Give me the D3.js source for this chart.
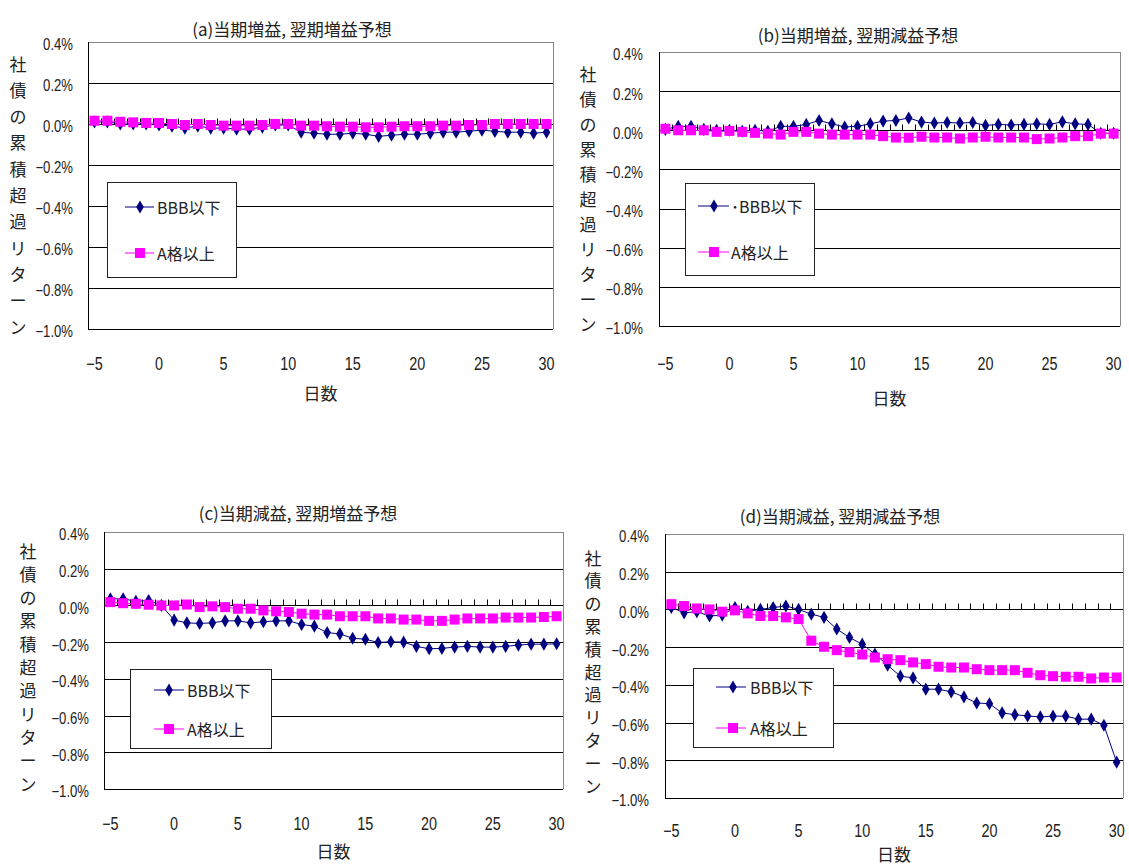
<!DOCTYPE html>
<html><head><meta charset="utf-8">
<script src="https://cdn.jsdelivr.net/npm/d3@7"></script>
<style>
body{margin:0;background:#fff}
svg{display:block}
text{font-family:"Liberation Sans","Noto Sans CJK JP",sans-serif;fill:#222}
.jp{font-family:"Noto Sans CJK JP","Liberation Sans",sans-serif}
</style>
</head><body><svg id="c" width="1129" height="866"></svg>
<script>
// ---------- data ----------
const days = [-5,-4,-3,-2,-1,0,1,2,3,4,5,6,7,8,9,10,11,12,13,14,15,16,17,18,19,20,21,22,23,24,25,26,27,28,29,30];
const xTickDays = [-5,0,5,10,15,20,25,30];
const yTicks = [0.4,0.2,0.0,-0.2,-0.4,-0.6,-0.8,-1.0];
const seriesNames = ["BBB以下","A格以上"];
const seriesNamesB = ["･BBB以下","A格以上"];
const titles = ["(a)当期増益, 翌期増益予想","(b)当期増益, 翌期減益予想","(c)当期減益, 翌期増益予想","(d)当期減益, 翌期減益予想"];
const yAxisTitle = "社債の累積超過リターン";
const xAxisTitle = "日数";

// (a) 当期増益, 翌期増益予想
const bbbA = [0.01,0.01,0.0,0.0,0.0,-0.005,-0.01,-0.02,-0.01,-0.02,-0.02,-0.025,-0.025,-0.015,-0.005,-0.005,-0.04,-0.045,-0.05,-0.05,-0.045,-0.05,-0.06,-0.055,-0.05,-0.05,-0.045,-0.04,-0.04,-0.035,-0.03,-0.036,-0.04,-0.04,-0.045,-0.04];
const aA   = [0.016,0.016,0.011,0.008,0.005,0.005,0.0,-0.005,0.0,-0.005,-0.008,-0.008,-0.008,-0.005,0.0,0.0,-0.008,-0.008,-0.011,-0.013,-0.013,-0.016,-0.016,-0.013,-0.011,-0.011,-0.011,-0.008,-0.008,-0.005,-0.005,0.0,0.0,0.0,0.0,0.0];
// (b) 当期増益, 翌期減益予想
const bbbB = [0.005,0.02,0.02,0.005,0.0,0.0,-0.005,0.0,-0.005,0.02,0.02,0.03,0.05,0.033,0.017,0.02,0.033,0.047,0.05,0.063,0.042,0.037,0.04,0.037,0.04,0.025,0.03,0.027,0.03,0.033,0.03,0.043,0.033,0.03,-0.015,-0.015];
const aB   = [0.008,0.0,0.0,0.0,-0.008,-0.003,-0.008,-0.013,-0.017,-0.022,-0.008,-0.008,-0.017,-0.022,-0.022,-0.022,-0.022,-0.03,-0.037,-0.038,-0.033,-0.037,-0.037,-0.042,-0.037,-0.033,-0.037,-0.037,-0.037,-0.045,-0.042,-0.037,-0.03,-0.03,-0.017,-0.017];
// (c) 当期減益, 翌期増益予想
const bbbC = [0.036,0.036,0.023,0.027,0.0,-0.08,-0.095,-0.098,-0.095,-0.084,-0.084,-0.095,-0.089,-0.084,-0.084,-0.104,-0.113,-0.148,-0.155,-0.179,-0.184,-0.202,-0.198,-0.2,-0.223,-0.236,-0.234,-0.227,-0.223,-0.227,-0.227,-0.223,-0.216,-0.211,-0.211,-0.209];
const aC   = [0.018,0.012,0.009,0.004,0.0,0.0,0.005,-0.009,-0.005,-0.009,-0.018,-0.018,-0.027,-0.032,-0.036,-0.045,-0.05,-0.05,-0.059,-0.059,-0.059,-0.071,-0.071,-0.077,-0.077,-0.084,-0.084,-0.077,-0.071,-0.071,-0.071,-0.066,-0.066,-0.066,-0.063,-0.059];
// (d) 当期減益, 翌期減益予想
const bbbD = [0.01,-0.018,-0.012,-0.035,-0.03,0.01,-0.01,0.0,0.01,0.018,0.0,-0.025,-0.042,-0.104,-0.149,-0.184,-0.237,-0.296,-0.354,-0.363,-0.423,-0.423,-0.437,-0.464,-0.496,-0.5,-0.549,-0.558,-0.565,-0.57,-0.566,-0.566,-0.582,-0.582,-0.614,-0.81];
const aD   = [0.028,0.018,0.005,0.0,-0.012,-0.005,-0.021,-0.035,-0.035,-0.042,-0.051,-0.166,-0.198,-0.216,-0.227,-0.239,-0.255,-0.264,-0.269,-0.281,-0.29,-0.304,-0.308,-0.308,-0.317,-0.322,-0.322,-0.322,-0.336,-0.349,-0.354,-0.357,-0.357,-0.366,-0.361,-0.361];

const seriesData = [[bbbA,aA],[bbbB,aB],[bbbC,aC],[bbbD,aD]];
const legendNames = [seriesNames, seriesNamesB, seriesNames, seriesNames];

// ---------- layout ----------
const layouts = [
 {left:88,right:553,top:42,bottom:329,titleX:292,titleY:28,yLabRight:73,yTitleX:18,yTitleTop:63,yTitleStep:26.3,xLabY:363,xTitleY:392,
  lg:{x:107,y:182,w:129,h:95,mx:140,l1:125,l2:154,tx:157,y1:207,y2:253}},
 {left:659,right:1120,top:52,bottom:326,titleX:858,titleY:34,yLabRight:643,yTitleX:588,yTitleTop:73,yTitleStep:25,xLabY:363,xTitleY:397,
  lg:{x:685,y:183,w:129,h:92,mx:714,l1:698,l2:729,tx:731,y1:206,y2:252}},
 {left:104,right:563,top:532,bottom:789,titleX:298,titleY:512,yLabRight:89,yTitleX:28,yTitleTop:550,yTitleStep:23.3,xLabY:823,xTitleY:850,
  lg:{x:130,y:669,w:141,h:79,mx:169,l1:154,l2:184,tx:187,y1:690,y2:729}},
 {left:665,right:1123,top:534,bottom:798,titleX:840,titleY:515,yLabRight:649,yTitleX:593,yTitleTop:557,yTitleStep:22.8,xLabY:830,xTitleY:853,
  lg:{x:693,y:668,w:140,h:79,mx:733,l1:716,l2:746,tx:750,y1:687,y2:728}}
];

const NAVY = "#000080", MAG = "#ff00ff";
const svg = d3.select("#c");
const fmt = v => (v < -1e-9 ? "\u2212" : "") + Math.abs(v).toFixed(1) + "%";
const diamond = d3.symbol().type(d3.symbolDiamond).size(50);

layouts.forEach((L, pi) => {
  const g = svg.append("g");
  const x = d3.scalePoint().domain(days).range([L.left, L.right]).padding(0.5);
  const y = d3.scaleLinear().domain([-1.0, 0.4]).range([L.bottom, L.top]);
  const step = x.step();

  // title
  g.append("text").attr("class","jp").attr("x",L.titleX).attr("y",L.titleY)
    .attr("text-anchor","middle").attr("dominant-baseline","central")
    .style("font-size","17px").text(titles[pi]);

  // gridlines
  yTicks.filter(t => t < 0.39).forEach(t => {
    g.append("line").attr("x1",L.left).attr("x2",L.right)
      .attr("y1",Math.round(y(t))+0.5).attr("y2",Math.round(y(t))+0.5)
      .attr("stroke","#000").attr("stroke-width",1);
  });
  // plot border (top/right grey)
  g.append("line").attr("x1",L.left).attr("x2",L.right).attr("y1",L.top+0.5).attr("y2",L.top+0.5).attr("stroke","#888");
  g.append("line").attr("x1",L.right+0.5).attr("x2",L.right+0.5).attr("y1",L.top).attr("y2",L.bottom).attr("stroke","#888");
  // left axis
  g.append("line").attr("x1",L.left+0.5).attr("x2",L.left+0.5).attr("y1",L.top).attr("y2",L.bottom+1).attr("stroke","#000");

  // category ticks on zero line (pointing up)
  const y0 = Math.round(y(0)) + 0.5;
  days.slice(1).forEach(d => {
    const xx = Math.round(x(d) - step/2) + 0.5;
    g.append("line").attr("x1",xx).attr("x2",xx).attr("y1",y0).attr("y2",y0-6).attr("stroke","#000");
  });

  // y tick labels (narrow)
  yTicks.forEach(t => {
    g.append("text").attr("transform",`translate(${L.yLabRight},${y(t)+3}) scale(0.82,1)`)
      .attr("text-anchor","end").attr("dominant-baseline","central")
      .style("font-size","16px").text(fmt(t));
  });
  // x tick labels (narrow)
  xTickDays.forEach(d => {
    g.append("text").attr("transform",`translate(${x(d)},${L.xLabY}) scale(0.8,1)`)
      .attr("text-anchor","middle").attr("dominant-baseline","central")
      .style("font-size","18px").text(d < 0 ? "\u2212" + Math.abs(d) : String(d));
  });
  // axis titles
  g.append("text").attr("class","jp").attr("x",(L.left+L.right)/2).attr("y",L.xTitleY)
    .attr("text-anchor","middle").attr("dominant-baseline","central")
    .style("font-size","17px").text(xAxisTitle);
  Array.from(yAxisTitle).forEach((ch, i) => {
    g.append("text").attr("class","jp").attr("x",L.yTitleX).attr("y",L.yTitleTop + i*L.yTitleStep)
      .attr("text-anchor","middle").attr("dominant-baseline","central")
      .style("font-size","17px").text(ch);
  });

  // series
  const [bbb, aa] = seriesData[pi];
  const line = d3.line().x((v,i) => x(days[i])).y(v => y(v));
  g.append("path").attr("d", line(bbb)).attr("fill","none").attr("stroke",NAVY).attr("stroke-width",1);
  g.selectAll(null).data(bbb).join("path")
    .attr("d", diamond).attr("transform",(v,i)=>`translate(${x(days[i])},${y(v)})`).attr("fill",NAVY);
  g.append("path").attr("d", line(aa)).attr("fill","none").attr("stroke",MAG).attr("stroke-width",1);
  g.selectAll(null).data(aa).join("rect")
    .attr("x",(v,i)=>x(days[i])-5).attr("y",v=>y(v)-5).attr("width",10).attr("height",10).attr("fill",MAG);

  // legend
  const lg = L.lg;
  g.append("rect").attr("x",lg.x+0.5).attr("y",lg.y+0.5).attr("width",lg.w).attr("height",lg.h)
    .attr("fill","#fff").attr("stroke","#222").attr("stroke-width",1);
  g.append("line").attr("x1",lg.l1).attr("x2",lg.l2).attr("y1",lg.y1).attr("y2",lg.y1).attr("stroke",NAVY);
  g.append("path").attr("d",diamond).attr("transform",`translate(${lg.mx},${lg.y1})`).attr("fill",NAVY);
  g.append("line").attr("x1",lg.l1).attr("x2",lg.l2).attr("y1",lg.y2).attr("y2",lg.y2).attr("stroke",MAG);
  g.append("rect").attr("x",lg.mx-5).attr("y",lg.y2-5).attr("width",10).attr("height",10).attr("fill",MAG);
  const names = legendNames[pi];
  g.append("text").attr("class","jp").attr("x",lg.tx).attr("y",lg.y1).attr("dominant-baseline","central")
    .style("font-size","16px").text(names[0]);
  g.append("text").attr("class","jp").attr("x",lg.tx).attr("y",lg.y2).attr("dominant-baseline","central")
    .style("font-size","16px").text(names[1]);
});
</script>
</body></html>
